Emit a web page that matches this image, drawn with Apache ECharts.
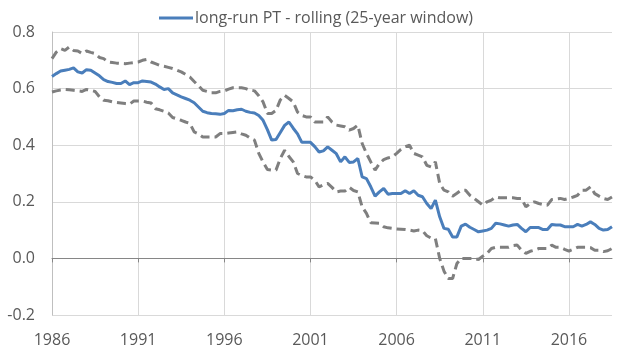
<!DOCTYPE html>
<html>
<head>
<meta charset="utf-8">
<script src="https://cdn.jsdelivr.net/npm/echarts@6/dist/echarts.min.js"></script>
<style>html,body{margin:0;padding:0;background:#fff}#c{width:632px;height:351px}</style>
</head>
<body>
<div id="c"></div>
<script>
// quarterly, 1986Q1 .. 2018Q3
const startYear = 1986;
const nQuarters = 131;
const yTicks = [-0.2, 0.0, 0.2, 0.4, 0.6, 0.8];
const legendName = 'long-run PT - rolling (25-year window)';

const central = [
  0.643,0.653,0.662,0.665, 0.668,0.673,0.659,0.655, 0.667,0.665,0.655,0.645,
  0.632,0.625,0.622,0.618, 0.618,0.627,0.614,0.621, 0.621,0.627,0.625,0.623,
  0.616,0.606,0.597,0.600, 0.585,0.578,0.571,0.565, 0.559,0.550,0.535,0.520,
  0.515,0.512,0.511,0.509, 0.512,0.523,0.522,0.525, 0.527,0.520,0.516,0.514,
  0.505,0.488,0.455,0.418, 0.420,0.445,0.470,0.482, 0.460,0.440,0.410,0.410,
  0.410,0.395,0.376,0.380, 0.394,0.382,0.370,0.341, 0.359,0.339,0.341,0.353,
  0.288,0.282,0.253,0.220, 0.235,0.247,0.227,0.229, 0.229,0.229,0.239,0.229,
  0.239,0.223,0.218,0.194, 0.176,0.206,0.147,0.106, 0.103,0.076,0.076,0.114,
  0.121,0.110,0.102,0.094, 0.097,0.100,0.106,0.124, 0.122,0.118,0.114,0.118,
  0.120,0.106,0.094,0.109, 0.109,0.109,0.102,0.102, 0.120,0.118,0.118,0.112,
  0.112,0.112,0.120,0.114, 0.120,0.129,0.120,0.106, 0.100,0.102,0.112
];
const upper = [
  0.706,0.729,0.741,0.735, 0.747,0.735,0.733,0.724, 0.733,0.728,0.724,0.710,
  0.706,0.694,0.692,0.690, 0.689,0.688,0.690,0.692, 0.694,0.700,0.703,0.694,
  0.688,0.682,0.679,0.675, 0.671,0.665,0.659,0.650, 0.641,0.625,0.610,0.594,
  0.590,0.585,0.585,0.590, 0.592,0.598,0.603,0.603, 0.603,0.600,0.594,0.592,
  0.575,0.553,0.512,0.512, 0.523,0.560,0.576,0.565, 0.553,0.517,0.505,0.500,
  0.500,0.482,0.482,0.482, 0.500,0.482,0.471,0.468, 0.465,0.453,0.459,0.471,
  0.406,0.371,0.341,0.312, 0.335,0.349,0.355,0.359, 0.371,0.385,0.395,0.400,
  0.371,0.365,0.359,0.329, 0.323,0.341,0.265,0.241, 0.235,0.220,0.230,0.241,
  0.241,0.223,0.212,0.200, 0.188,0.200,0.206,0.217, 0.214,0.214,0.214,0.214,
  0.212,0.212,0.182,0.194, 0.200,0.194,0.190,0.188, 0.208,0.210,0.212,0.208,
  0.212,0.217,0.223,0.241, 0.241,0.253,0.229,0.220, 0.212,0.208,0.217
];
const lower = [
  0.588,0.592,0.595,0.597, 0.596,0.594,0.592,0.590, 0.597,0.594,0.590,0.571,
  0.559,0.557,0.553,0.551, 0.549,0.547,0.545,0.556, 0.556,0.556,0.552,0.549,
  0.529,0.525,0.520,0.514, 0.498,0.493,0.488,0.482, 0.477,0.447,0.440,0.429,
  0.429,0.429,0.429,0.441, 0.441,0.443,0.445,0.447, 0.440,0.435,0.425,0.418,
  0.371,0.340,0.314,0.312, 0.312,0.353,0.382,0.360, 0.341,0.300,0.293,0.288,
  0.288,0.276,0.253,0.260, 0.265,0.251,0.235,0.238, 0.238,0.251,0.240,0.235,
  0.182,0.159,0.126,0.125, 0.124,0.112,0.108,0.106, 0.104,0.103,0.102,0.100,
  0.097,0.100,0.098,0.080, 0.072,0.070,0.000,-0.045, -0.071,-0.071,-0.018,0.000,
  0.000,0.000,0.000,-0.004, 0.008,0.018,0.035,0.039, 0.039,0.039,0.039,0.045,
  0.047,0.029,0.018,0.025, 0.029,0.035,0.035,0.035, 0.047,0.039,0.039,0.032,
  0.026,0.032,0.039,0.039, 0.039,0.038,0.029,0.029, 0.024,0.027,0.035
];

const categories = [];
for (let i = 0; i < nQuarters; i++) {
  categories.push((startYear + Math.floor(i / 4)) + 'Q' + (i % 4 + 1));
}

const FONT = 'Open Sans';
const FS = 16;
const chart = echarts.init(document.getElementById('c'), null, {renderer: 'canvas'});
chart.setOption({
  animation: false,
  backgroundColor: '#ffffff',
  textStyle: {fontFamily: FONT},
  legend: {
    data: [legendName],
    top: 5,
    left: 'center',
    itemWidth: 34,
    itemHeight: 3,
    itemGap: 4,
    textStyle: {fontFamily: FONT, fontSize: FS, color: '#595959', padding: [0, 0, 0, -3]},
    icon: 'rect'
  },
  grid: {left: 52, right: 20, top: 32, bottom: 36, containLabel: false},
  xAxis: [{
    type: 'category',
    data: categories,
    boundaryGap: false,
    position: 'bottom',
    axisLine: {show: false, onZero: false},
    axisTick: {show: false},
    axisLabel: {
      interval: 19, margin: 17,
      fontFamily: FONT, fontSize: FS, color: '#595959',
      formatter: v => v.slice(0, 4)
    },
    splitLine: {show: true, interval: 19, lineStyle: {color: '#d9d9d9', width: 1}}
  }, {
    type: 'category',
    data: categories,
    boundaryGap: false,
    position: 'bottom',
    axisLine: {show: true, onZero: true, lineStyle: {color: '#868686', width: 1}},
    axisTick: {show: true, interval: 19, length: 4, lineStyle: {color: '#868686'}},
    axisLabel: {show: false},
    splitLine: {show: false}
  }],
  yAxis: {
    type: 'value',
    min: yTicks[0], max: yTicks[yTicks.length - 1], interval: 0.2,
    axisLine: {show: true, lineStyle: {color: '#bfbfbf'}},
    axisTick: {show: false},
    axisLabel: {
      margin: 17, fontFamily: FONT, fontSize: FS, color: '#595959',
      formatter: v => (Math.round(v * 10) / 10).toFixed(1)
    },
    splitLine: {show: true, lineStyle: {color: '#d9d9d9', width: 1}}
  },
  series: [{
    name: 'upper',
    type: 'line',
    data: upper,
    xAxisIndex: 0,
    symbol: 'none',
    lineStyle: {color: '#7f7f7f', width: 3, type: [9, 5]},
    itemStyle: {color: '#7f7f7f'},
    z: 3
  }, {
    name: 'lower',
    type: 'line',
    data: lower,
    xAxisIndex: 0,
    symbol: 'none',
    lineStyle: {color: '#7f7f7f', width: 3, type: [9, 5]},
    itemStyle: {color: '#7f7f7f'},
    z: 3
  }, {
    name: legendName,
    type: 'line',
    data: central,
    xAxisIndex: 0,
    symbol: 'none',
    lineStyle: {color: '#4a7ebb', width: 3},
    itemStyle: {color: '#4a7ebb'},
    z: 4
  }]
});
</script>
</body>
</html>
